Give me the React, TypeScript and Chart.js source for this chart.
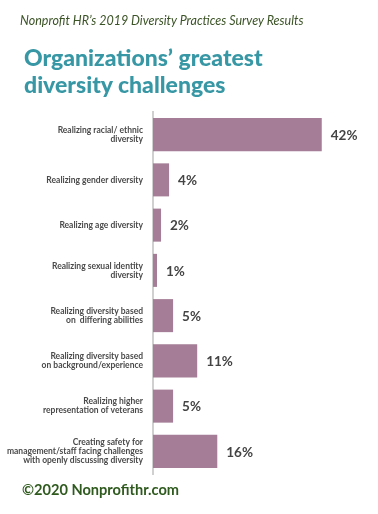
import React, { useEffect, useRef } from "react";
import { Chart, registerables } from "chart.js";
Chart.register(...registerables);

const categories: string[][] = [
  ["Realizing racial/ ethnic", "diversity"],
  ["Realizing gender diversity"],
  ["Realizing age diversity"],
  ["Realizing sexual identity", "diversity"],
  ["Realizing diversity based", "on  differing abilities"],
  ["Realizing diversity based", "on background/experience"],
  ["Realizing higher", "representation of veterans"],
  ["Creating safety for", "management/staff facing challenges", "with openly discussing diversity"],
];
const values: number[] = [42, 4, 2, 1, 5, 11, 5, 16];
const subtitle = "Nonprofit HR\u2019s 2019 Diversity Practices Survey Results";
const titleLines = ["Organizations\u2019 greatest", "diversity challenges"];
const footer = "\u00a92020 Nonprofithr.com";

const valueLabels = {
  id: "valueLabels",
  afterDatasetsDraw(chart: any) {
    const ctx = chart.ctx;
    const meta = chart.getDatasetMeta(0);
    ctx.save();
    ctx.font = "bold 13.5px Lato";
    ctx.fillStyle = "#444444";
    ctx.textAlign = "left";
    ctx.textBaseline = "middle";
    meta.data.forEach((bar: any, i: number) => {
      ctx.fillText(values[i] + "%", bar.x + 9, bar.y + 1);
    });
    ctx.restore();
  },
};

export default function App() {
  const ref = useRef<HTMLCanvasElement>(null);
  useEffect(() => {
    const chart = new Chart(ref.current!, {
      type: "bar",
      data: {
        labels: categories,
        datasets: [
          {
            data: values,
            backgroundColor: "#a57d96",
            borderWidth: 0,
            categoryPercentage: 1,
            barPercentage: 0.73,
          },
        ],
      },
      options: {
        indexAxis: "y",
        responsive: false,
        animation: false,
        layout: { padding: { top: 112, bottom: 40, left: 0, right: 0 } },
        plugins: { legend: { display: false }, tooltip: { enabled: false }, title: { display: false } },
        scales: {
          x: { display: false, min: 0, max: 56 },
          y: {
            grid: { display: false, drawTicks: false },
            border: { display: true, color: "#d0d0d0", width: 2 },
            ticks: {
              color: "#4a4a4a",
              font: { family: "Lato", weight: "bold", size: 8.5, lineHeight: 1.05 },
              padding: 10,
            },
            afterFit(scale: any) {
              scale.width = 153;
            },
          },
        },
      },
      plugins: [valueLabels],
    });
    return () => chart.destroy();
  }, []);
  return (
    <div style={{ position: "absolute", left: 0, top: 0, width: 378, height: 514, background: "#fff" }}>
      <canvas ref={ref} width={378} height={514} style={{ position: "absolute", left: 0, top: 0 }} />
      <div
        style={{
          position: "absolute",
          left: 20,
          top: 13,
          fontFamily: "Lato",
          fontStyle: "italic",
          fontSize: 12.5,
          color: "#3b5326",
          whiteSpace: "nowrap",
          lineHeight: "16px",
        }}
      >
        {subtitle}
      </div>
      <div
        style={{
          position: "absolute",
          left: 24,
          top: 44,
          fontFamily: "Lato",
          fontWeight: 900,
          fontSize: 23,
          color: "#3797a5",
          whiteSpace: "nowrap",
          lineHeight: "27px",
        }}
      >
        {titleLines.map((l, i) => (
          <div key={i}>{l}</div>
        ))}
      </div>
      <div
        style={{
          position: "absolute",
          left: 22,
          top: 481,
          fontFamily: "Lato",
          fontWeight: "bold",
          fontSize: 14.6,
          color: "#2f5a1e",
          whiteSpace: "nowrap",
          lineHeight: "17px",
        }}
      >
        {footer}
      </div>
    </div>
  );
}
